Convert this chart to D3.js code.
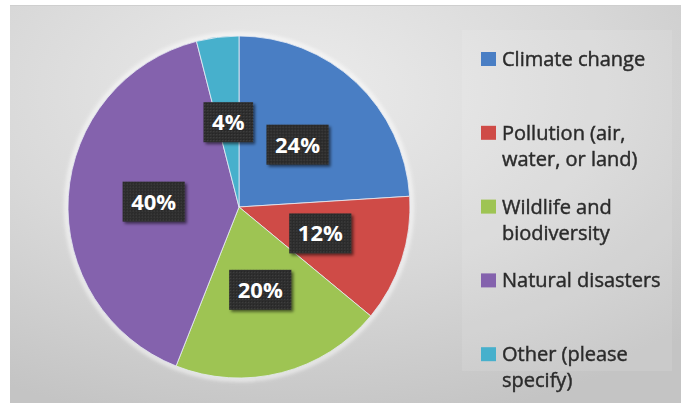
<!DOCTYPE html>
<html>
<head>
<meta charset="utf-8">
<script src="https://cdn.jsdelivr.net/npm/d3@7/dist/d3.min.js"></script>
<style>
  html, body { margin: 0; padding: 0; background: #ffffff; }
  svg { display: block; }
</style>
</head>
<body>
<svg id="chart" width="681" height="403"></svg>
<script>
// Survey answers: share of respondents per environmental concern
const categories = [
  "Climate change",
  "Pollution (air, water, or land)",
  "Wildlife and biodiversity",
  "Natural disasters",
  "Other (please specify)"
];
const values = [24, 12, 20, 40, 4];
const legendLines = [
  ["Climate change"],
  ["Pollution (air,", "water, or land)"],
  ["Wildlife and", "biodiversity"],
  ["Natural disasters"],
  ["Other (please", "specify)"]
];
const colors = ["#4a7ec4", "#cf4b47", "#9ec452", "#8462ad", "#47b0cc"];

const W = 681, H = 403;
const svg = d3.select("#chart");
const defs = svg.append("defs");

// Panel background: soft grey radial wash
const bg = defs.append("radialGradient").attr("id", "bgGrad")
  .attr("cx", "42%").attr("cy", "22%").attr("r", "85%");
bg.append("stop").attr("offset", "0%").attr("stop-color", "#ececec");
bg.append("stop").attr("offset", "55%").attr("stop-color", "#d8d8d8");
bg.append("stop").attr("offset", "100%").attr("stop-color", "#c4c4c4");

// Speckled dark fill for the value boxes
const pat = defs.append("pattern").attr("id", "boxPat")
  .attr("width", 3).attr("height", 3).attr("patternUnits", "userSpaceOnUse");
pat.append("rect").attr("width", 3).attr("height", 3).attr("fill", "#2e2e2e");
pat.append("rect").attr("width", 1).attr("height", 1).attr("fill", "#474747");
pat.append("rect").attr("x", 2).attr("y", 2).attr("width", 1).attr("height", 1).attr("fill", "#242424");

const shadow = defs.append("filter").attr("id", "boxShadow")
  .attr("x", "-30%").attr("y", "-30%").attr("width", "160%").attr("height", "160%");
shadow.append("feDropShadow").attr("dx", 2).attr("dy", 2).attr("stdDeviation", 1.8)
  .attr("flood-color", "#000").attr("flood-opacity", 0.55);

const glow = defs.append("filter").attr("id", "pieGlow")
  .attr("x", "-10%").attr("y", "-10%").attr("width", "120%").attr("height", "120%");
glow.append("feGaussianBlur").attr("stdDeviation", 2);

const soft = defs.append("filter").attr("id", "soft");
soft.append("feGaussianBlur").attr("stdDeviation", 0.35);

// Panel
svg.append("rect").attr("x", 10).attr("y", 5).attr("width", W - 10).attr("height", H - 5)
  .attr("fill", "url(#bgGrad)");
svg.append("line").attr("x1", 10).attr("x2", W).attr("y1", 5.5).attr("y2", 5.5)
  .attr("stroke", "#cfcfcf").attr("stroke-width", 1);

// Legend backdrop
svg.append("rect").attr("x", 462).attr("y", 30).attr("width", 210).attr("height", 341)
  .attr("fill", "#ffffff").attr("opacity", 0.1);

// Pie
const cx = 239, cy = 207, R = 171;
const pie = d3.pie().sort(null).value(d => d);
const arcs = pie(values);
const arc = d3.arc().innerRadius(0).outerRadius(R);
const labelArc = d3.arc().innerRadius(R * 0.5).outerRadius(R * 0.5);

const g = svg.append("g").attr("transform", `translate(${cx},${cy})`);

g.append("circle").attr("r", R + 1.5).attr("fill", "none")
  .attr("stroke", "#ffffff").attr("stroke-width", 3).attr("opacity", 0.9)
  .attr("filter", "url(#pieGlow)");

g.selectAll("path.slice").data(arcs).join("path")
  .attr("class", "slice")
  .attr("d", arc)
  .attr("fill", (d, i) => colors[i])
  .attr("stroke", "#e8eef5").attr("stroke-width", 0.8)
  .attr("filter", "url(#soft)");

// Value boxes
const lab = g.selectAll("g.lab").data(arcs).join("g")
  .attr("class", "lab")
  .attr("transform", d => `translate(${labelArc.centroid(d)})`);

lab.each(function(d) {
  const sel = d3.select(this);
  const rectSel = sel.append("rect").attr("fill", "url(#boxPat)").attr("filter", "url(#boxShadow)");
  const t = sel.append("text")
    .attr("text-anchor", "middle")
    .attr("dy", "0.36em")
    .attr("fill", "#ffffff")
    .attr("font-family", "'Open Sans', sans-serif")
    .attr("font-weight", 700)
    .attr("font-size", 22)
    .text(d.data + "%");
  const bb = t.node().getBBox();
  const w = bb.width + 17, h = 40;
  rectSel.attr("x", -w / 2).attr("y", -h / 2).attr("width", w).attr("height", h);
});

// Legend
const legendX = 481, legendY0 = 66, entryStep = 73.8, lineH = 26;
const leg = svg.append("g").attr("filter", "url(#soft)");
legendLines.forEach((lines, i) => {
  const by = legendY0 + i * entryStep;
  leg.append("rect").attr("x", legendX).attr("y", by - 14).attr("width", 15).attr("height", 14)
    .attr("fill", colors[i]);
  const t = leg.append("text")
    .attr("x", legendX + 21).attr("y", by)
    .attr("fill", "#2c2c2c")
    .attr("stroke", "#2c2c2c").attr("stroke-width", 0.45)
    .attr("font-family", "'Open Sans', sans-serif")
    .attr("font-size", 20);
  lines.forEach((ln, j) => {
    t.append("tspan").attr("x", legendX + 21).attr("y", by + j * lineH).text(ln);
  });
});
</script>
</body>
</html>
